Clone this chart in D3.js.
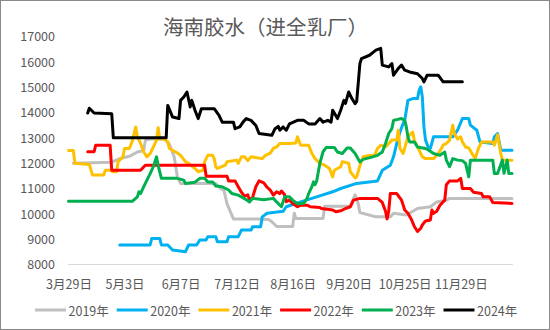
<!DOCTYPE html>
<html>
<head>
<meta charset="utf-8">
<script src="https://cdn.jsdelivr.net/npm/d3@7"></script>
<style>
  html, body { margin: 0; padding: 0; background: #fff; }
  svg { display: block; }
  text { font-family: "Noto Sans CJK SC", "Noto Sans", sans-serif; fill: #595959; }
</style>
</head>
<body>
<svg id="chart" width="550" height="330"></svg>
<script>
// Hainan latex price (delivered to whole-milk plants), yuan/ton, by season year
const title = "海南胶水（进全乳厂）";
const seriesNames = ["2019年", "2020年", "2021年", "2022年", "2023年", "2024年"];
const seriesColors = ["#BFBFBF", "#00B0F0", "#FFC000", "#FF0000", "#00B050", "#000000"];
const tickDates = ["3-29", "5-3", "6-7", "7-12", "8-16", "9-20", "10-25", "11-29"];
const tickLabels = ["3月29日", "5月3日", "6月7日", "7月12日", "8月16日", "9月20日", "10月25日", "11月29日"];
const yTicks = [8000, 9000, 10000, 11000, 12000, 13000, 14000, 15000, 16000, 17000];

const dates2019 = ["4-1","4-25","4-30","5-6","5-11","5-15","5-16","5-19","5-28","5-31","6-3","6-5","6-7","6-29","7-2","7-4","7-6","7-8","7-10","7-25","8-1","8-3","8-6","8-16","8-17","8-18","9-4","9-5","9-21","9-24","9-26","9-27","10-7","10-16","10-18","10-26","10-30","11-2","11-10","11-14","11-20","11-22","12-31"];
const values2019 = [12000,12040,12180,12270,12440,12500,12900,12950,12950,12750,12250,11460,11200,11200,11000,10950,10400,10100,9800,9800,9780,9690,9500,9500,10020,9820,9820,10300,10300,10750,10400,10050,9880,9880,10020,9950,10100,10210,10280,10470,10540,10610,10610];

const dates2020 = ["4-30","5-19","5-20","5-25","5-26","5-30","6-2","6-10","6-12","6-17","6-19","6-23","6-24","6-29","6-30","7-6","7-7","7-13","7-15","7-21","7-22","7-27","7-28","7-31","8-10","8-12","8-21","8-28","8-31","9-10","9-15","9-25","10-8","10-11","10-16","10-18","10-20","10-22","10-24","10-25","10-27","10-30","11-2","11-3","11-4","11-5","11-6","11-7","11-9","11-10","11-12","11-24","11-27","11-30","12-4","12-5","12-9","12-11","12-19","12-20","12-22","12-24","12-31"];
const values2020 = [8770,8770,9030,9030,8770,8770,8570,8500,8770,8770,8970,8970,9100,9100,8900,8900,9100,9100,9360,9360,9490,9490,9880,10020,10100,10280,10470,10610,10670,10870,11000,11200,11300,11720,11920,12250,12780,13230,13560,13690,14480,14550,14550,14880,15010,14610,13430,12910,12580,12580,13040,13040,13300,13760,13760,13500,13300,12840,12780,13040,13170,12510,12510];

const dates2021 = ["3-29","4-1","4-2","4-11","4-13","4-20","4-21","4-24","4-26","4-28","4-29","5-2","5-3","5-6","5-8","5-10","5-11","5-13","5-15","5-17","5-19","5-21","5-23","5-24","5-25","5-28","5-30","5-31","6-4","6-7","6-10","6-12","6-16","6-18","6-21","6-22","6-23","6-24","6-27","6-28","6-29","6-30","7-5","7-6","7-12","7-13","7-15","7-17","7-19","7-21","7-28","7-30","8-2","8-4","8-6","8-8","8-14","8-18","8-19","8-21","8-26","8-28","8-30","9-2","9-5","9-8","9-10","9-11","9-15","9-16","9-20","9-21","9-24","9-25","9-27","9-29","10-3","10-6","10-8","10-10","10-13","10-17","10-20","10-21","10-22","10-24","10-27","10-30","10-31","11-2","11-5","11-7","11-12","11-15","11-18","11-20","11-22","11-24","11-25","11-27","11-29","11-30","12-2","12-4","12-6","12-8","12-10","12-12","12-19","12-20","12-22","12-24","12-25","12-31"];
const values2021 = [12500,12500,12000,11950,11530,11530,11720,11720,11660,11660,12060,12250,12580,12580,12900,13430,13040,12780,12440,12250,12380,12640,12910,13400,12950,12950,12840,12580,12440,12310,12060,11990,11790,11660,11720,12060,12180,12310,12310,12180,11860,11790,11920,12060,12120,11990,12250,12250,12100,12250,12180,12310,12400,12580,12640,12780,12780,12800,13040,12710,12710,12380,12180,11990,11920,11790,11460,11720,11860,12060,12000,11660,11420,11460,11900,12250,12300,12300,12580,12710,12640,12910,12910,13300,12580,12380,13040,13230,12900,12640,12250,12180,12180,12380,12710,12780,12900,13500,13170,12950,13040,12840,12640,12600,12380,12180,12580,12840,12840,12710,13120,12380,12120,12120];

const dates2022 = ["4-10","4-14","4-15","4-24","4-25","5-13","5-16","6-22","6-23","7-6","7-7","7-11","7-13","7-15","7-17","7-19","7-20","7-22","7-24","7-26","7-29","7-31","8-2","8-4","8-6","8-8","8-9","8-11","8-12","8-14","8-16","8-19","8-21","8-25","8-27","9-2","9-3","9-10","9-12","9-15","9-18","9-21","9-23","9-27","10-8","10-11","10-13","10-14","10-15","10-16","10-20","10-23","10-25","10-27","10-29","10-31","11-2","11-4","11-5","11-7","11-10","11-11","11-12","11-14","11-16","11-19","11-20","11-22","11-27","11-29","11-30","12-5","12-7","12-12","12-13","12-17","12-19","12-31"];
const values2022 = [12450,12450,12710,12710,11720,11720,11920,11920,11480,11480,11300,11300,11070,10850,10700,10750,10550,10650,11070,11300,11220,11050,10940,10740,10870,10800,10900,10750,10480,10540,10410,10280,10340,10340,10280,10250,10210,10150,10080,10120,10210,10280,10540,10610,10610,10450,10100,9800,10100,10800,10800,10540,10150,10020,9800,9500,9300,9430,9560,9720,9760,10150,10020,10100,10340,10540,11150,11300,11300,11400,11000,11000,10850,10800,10670,10670,10450,10410];

const dates2023 = ["3-29","5-8","5-11","5-12","5-13","5-15","5-17","5-19","5-21","5-23","5-24","5-25","5-26","6-5","6-9","6-10","6-16","6-19","6-22","6-24","6-27","6-29","7-3","7-7","7-9","7-13","7-15","7-18","7-20","7-22","7-29","8-4","8-6","8-9","8-11","8-14","8-16","8-19","8-23","8-25","8-26","8-28","8-29","8-30","8-31","9-2","9-4","9-6","9-11","9-13","9-16","9-19","9-21","9-24","9-27","9-29","10-5","10-8","10-11","10-13","10-15","10-17","10-18","10-23","10-25","10-26","10-27","10-28","10-31","11-2","11-7","11-9","11-12","11-16","11-19","11-20","11-22","11-24","11-27","11-30","12-2","12-4","12-5","12-19","12-20","12-22","12-25","12-26","12-28","12-29","12-31"];
const values2023 = [10500,10500,10670,10870,10800,11070,11330,11590,11860,12250,11900,11660,11400,11400,11330,11200,11250,11400,11400,11260,11260,11100,11070,10940,10800,10740,10670,10560,10470,10610,10560,10610,10470,10280,10670,10670,10540,10400,10420,10610,10800,11070,11260,11150,11300,12000,12450,12620,12620,12440,12380,12600,12600,12380,12050,12150,12250,12310,12440,12780,13170,13370,13690,13760,13690,13430,13040,12840,12840,12640,12580,12510,12380,12310,12440,12120,11860,12180,12120,12100,11990,11460,12120,12120,11590,11590,12120,11600,12120,11590,11590];

const dates2024 = ["4-10","4-11","4-14","4-25","4-26","5-29","5-30","6-2","6-6","6-7","6-9","6-11","6-13","6-14","6-16","6-18","6-20","6-28","7-1","7-3","7-10","7-11","7-14","7-16","7-18","7-21","7-24","7-26","8-3","8-5","8-7","8-8","8-10","8-12","8-14","8-19","8-23","8-26","8-30","9-2","9-4","9-7","9-9","9-10","9-13","9-15","9-17","9-18","9-20","9-22","9-24","9-25","9-27","9-28","10-3","10-7","10-10","10-11","10-15","10-17","10-18","10-21","10-23","10-25","10-28","11-2","11-5","11-6","11-8","11-15","11-18","11-30"];
const values2024 = [13980,14170,13980,13950,13000,13000,14280,13820,13760,14480,14610,14810,14220,14480,14090,13760,14150,14150,13890,13620,13620,13360,13430,13620,13760,13690,13490,13170,13100,13360,13450,13300,13430,13300,13550,13690,13690,13550,13550,13760,13620,13690,13620,14090,13760,14090,14480,14360,14810,14550,14350,14440,15930,16130,16260,16460,16530,15870,15800,15930,15470,15740,15870,15670,15600,15530,15340,15210,15470,15470,15210,15210];

const seriesDates = [dates2019, dates2020, dates2021, dates2022, dates2023, dates2024];
const seriesValues = [values2019, values2020, values2021, values2022, values2023, values2024];

// Month-day strings placed on one calendar year
const YEAR = 2021;
const toDate = s => { const [m, d] = s.split("-").map(Number); return new Date(YEAR, m - 1, d); };

const svg = d3.select("#chart");
const W = 550, H = 330;
const plot = { left: 67.7, right: 512.8, top: 36.5, bottom: 264.5 };

// outer frame
svg.append("rect")
  .attr("x", 0.5).attr("y", 0.5)
  .attr("width", W - 1).attr("height", H - 1)
  .attr("fill", "#fff").attr("stroke", "#898989").attr("stroke-width", 1);

// daily categories from 3/29 to 12/31; each day sits at the centre of its slot
const x = d3.scaleTime()
  .domain([new Date(YEAR, 2, 28, 12), new Date(YEAR, 11, 31, 12)])
  .range([plot.left, plot.right]);
const y = d3.scaleLinear().domain([8000, 17000]).range([plot.bottom, plot.top]);

// title
svg.append("text")
  .attr("x", 265.5).attr("y", 25.5)
  .attr("text-anchor", "middle").attr("dominant-baseline", "central")
  .style("font-size", "20.5px")
  .text(title);

// y axis labels (no line, no ticks)
const yAxis = d3.axisLeft(y).tickValues(yTicks).tickSize(0).tickPadding(0).tickFormat(d3.format("d"));
const gy = svg.append("g").attr("transform", "translate(55,0)").call(yAxis);
gy.select(".domain").remove();
gy.selectAll("text").style("font-size", "12.5px").style("font-family", null).attr("fill", "#595959").attr("dy", "0.35em");

// baseline at 8000
svg.append("line")
  .attr("x1", plot.left).attr("x2", plot.right)
  .attr("y1", y(8000)).attr("y2", y(8000))
  .attr("stroke", "#D9D9D9").attr("stroke-width", 1);

// x axis labels
const xAxis = d3.axisBottom(x)
  .tickValues(tickDates.map(toDate))
  .tickSize(0).tickPadding(0)
  .tickFormat((d, i) => tickLabels[i]);
const gx = svg.append("g").attr("transform", "translate(0,285)").call(xAxis);
gx.select(".domain").remove();
gx.selectAll("text").style("font-size", "12.5px").style("font-family", null).attr("fill", "#595959").attr("y", 0).attr("dy", "0.35em");

// series lines
const line = d3.line().x(d => x(d[0])).y(d => y(d[1]));
seriesNames.forEach((name, i) => {
  const pts = seriesDates[i].map((s, k) => [toDate(s), seriesValues[i][k]]);
  svg.append("path")
    .datum(pts)
    .attr("d", line)
    .attr("fill", "none")
    .attr("stroke", seriesColors[i])
    .attr("stroke-width", 3)
    .attr("stroke-linejoin", "round")
    .attr("stroke-linecap", "round");
});

// legend
const legend = svg.append("g").attr("transform", "translate(35,310)");
seriesNames.forEach((name, i) => {
  const g = legend.append("g").attr("transform", `translate(${i * 81.7},0)`);
  g.append("line").attr("x1", 0).attr("x2", 31).attr("y1", 0).attr("y2", 0)
    .attr("stroke", seriesColors[i]).attr("stroke-width", 3);
  g.append("text").attr("x", 33.5).attr("y", 0).attr("dominant-baseline", "central")
    .style("font-size", "12.5px").text(name);
});
</script>
</body>
</html>
